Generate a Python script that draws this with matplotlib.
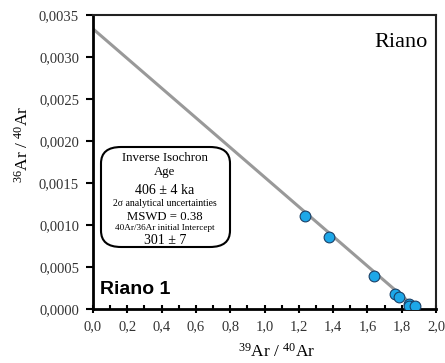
import numpy as np
import matplotlib.pyplot as plt
from matplotlib.ticker import MultipleLocator, FuncFormatter
from matplotlib.patches import FancyBboxPatch

# data
x_pts = [1.236, 1.378, 1.636, 1.763, 1.782, 1.843, 1.845, 1.878]
y_pts = [0.00111, 0.00086, 0.00039, 0.00018, 0.00014, 0.00006, 0.00003, 0.00003]
fit_x = [0.0, 1.89]
fit_y = [0.003335, 0.0]

box_lines = ['Inverse Isochron', 'Age', '406 \u00b1 4 ka', '2\u03c3 analytical uncertainties',
             'MSWD = 0.38', '40Ar/36Ar initial Intercept', '301 \u00b1 7']

serif = 'Liberation Serif'
plt.rcParams['mathtext.fontset'] = 'custom'
plt.rcParams['mathtext.rm'] = serif
plt.rcParams['mathtext.it'] = serif

fig = plt.figure(figsize=(4.45, 3.63), dpi=100)
ax = fig.add_axes([93/445, 1 - 309/363, (436-93)/445, (309-15)/363])

ax.plot(fit_x, fit_y, color='#999999', lw=2.2, zorder=2)
ax.scatter(x_pts, y_pts, s=60, color='#1da7e8', edgecolor='#1a3f66', lw=0.8, zorder=3)

ax.set_xlim(0.0, 2.0)
ax.set_ylim(0.0, 0.0035)
ax.xaxis.set_major_locator(MultipleLocator(0.2))
ax.xaxis.set_minor_locator(MultipleLocator(0.1))
ax.yaxis.set_major_locator(MultipleLocator(0.0005))
ax.xaxis.set_major_formatter(FuncFormatter(lambda v, p: f'{v:.1f}'.replace('.', ',')))
ax.yaxis.set_major_formatter(FuncFormatter(lambda v, p: f'{v:.4f}'.replace('.', ',')))
ax.tick_params(axis='x', which='major', direction='inout', length=6, width=1.5, labelsize=10.5, pad=5)
ax.tick_params(axis='x', which='minor', direction='in', length=3, width=1.5)
ax.tick_params(axis='y', which='major', direction='out', length=5, width=1.5, labelsize=10.5, pad=5)
for lab in ax.get_xticklabels() + ax.get_yticklabels():
    lab.set_fontfamily(serif)
    lab.set_color('#333333')

for s in ['left', 'bottom']:
    ax.spines[s].set_linewidth(2.0)
for s in ['top', 'right']:
    ax.spines[s].set_linewidth(1.5)
    ax.spines[s].set_color('#222222')

ax.set_xlabel('$^{39}$Ar / $^{40}$Ar', fontfamily=serif, fontsize=12.5)
ax.xaxis.set_label_coords(0.535, -0.115)
ax.set_ylabel('$^{36}$Ar / $^{40}$Ar', fontfamily=serif, fontsize=12.5)
ax.yaxis.set_label_coords(-0.18, 0.56)

ax.text(0.975, 0.905, 'Riano', transform=ax.transAxes, ha='right', va='center',
        fontfamily=serif, fontsize=16)
ax.text(0.02, 0.065, 'Riano 1', transform=ax.transAxes, ha='left', va='center',
        fontfamily='Liberation Sans', fontweight='bold', fontsize=14)

# rounded text box
box = FancyBboxPatch((101/445, 1 - 247/363), (230-101)/445, (247-147)/363,
                     boxstyle='round,pad=0,rounding_size=0.045', transform=fig.transFigure,
                     facecolor='white', edgecolor='black', lw=1.5, zorder=4)
fig.patches.append(box)
ys = [158, 172, 191, 203, 217, 228, 240]
sizes = [9.3, 9.3, 10, 7, 9.2, 6.6, 10]
for t, yy, fs in zip(box_lines, ys, sizes):
    fig.text(165/445, 1 - yy/363, t, ha='center', va='center', fontfamily=serif,
             fontsize=fs, zorder=5)

plt.savefig('out.png', dpi=100)
